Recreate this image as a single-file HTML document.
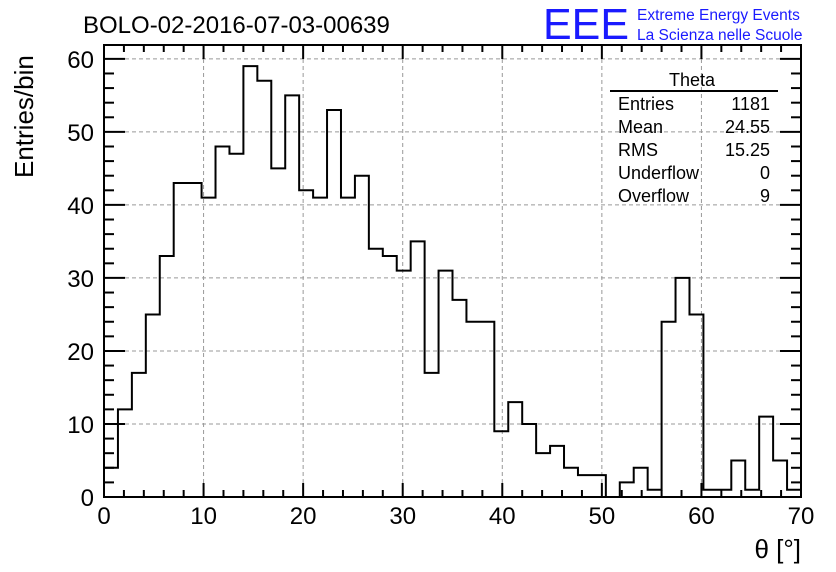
<!DOCTYPE html>
<html><head><meta charset="utf-8"><style>
body{margin:0;background:#fff;}
svg{display:block;font-family:"Liberation Sans",sans-serif;}
</style></head><body>
<svg id="c" width="836" height="572">
<rect x="0" y="0" width="836" height="572" fill="#fff"/>
<text x="83" y="33" font-size="24">BOLO-02-2016-07-03-00639</text>
<g>
<text x="543" y="39" font-size="44" fill="#1a1aff" textLength="86" lengthAdjust="spacingAndGlyphs">EEE</text>
<text x="637" y="20" font-size="15.5" fill="#1a1aff">Extreme Energy Events</text>
<text x="637" y="40" font-size="15.5" fill="#1a1aff">La Scienza nelle Scuole</text>
</g>
<g id="grid"></g>
<g id="ticks"></g>
<path id="hist" fill="none" stroke="#000" stroke-width="2"/>
<rect x="104" y="45" width="697" height="452" fill="none" stroke="#000" stroke-width="2"/>
<g id="labels" font-size="24"></g>
<text x="801" y="558" font-size="26" text-anchor="end">θ [°]</text>
<text transform="translate(33,178) rotate(-90)" font-size="26">Entries/bin</text>
<g font-size="18">
<text x="692" y="86" text-anchor="middle">Theta</text>
<line x1="610" y1="91" x2="778" y2="91" stroke="#000" stroke-width="2"/>
<text x="618" y="110">Entries</text><text x="770" y="110" text-anchor="end">1181</text>
<text x="618" y="133">Mean</text><text x="770" y="133" text-anchor="end">24.55</text>
<text x="618" y="156">RMS</text><text x="770" y="156" text-anchor="end">15.25</text>
<text x="618" y="179">Underflow</text><text x="770" y="179" text-anchor="end">0</text>
<text x="618" y="202">Overflow</text><text x="770" y="202" text-anchor="end">9</text>
</g>
</svg>
<script>
const counts=[4,12,17,25,33,43,43,41,48,47,59,57,45,55,42,41,53,41,44,34,33,31,35,17,31,27,24,24,9,13,10,6,7,4,3,3,0,2,4,1,24,30,25,1,1,5,1,11,5,1];
const xRange=[0,70];
const yRange=[0,61.9];
const xTicks=[0,10,20,30,40,50,60,70];
const yTicks=[0,10,20,30,40,50,60];
const NS="http://www.w3.org/2000/svg";
const L=104,R=801,T=45,B=497;
const X=v=>L+(v-xRange[0])/(xRange[1]-xRange[0])*(R-L);
const Y=v=>B-(v-yRange[0])/(yRange[1]-yRange[0])*(B-T);
function mk(tag,at,parent){const e=document.createElementNS(NS,tag);for(const k in at)e.setAttribute(k,at[k]);parent.appendChild(e);return e;}
const grid=document.getElementById('grid'),ticks=document.getElementById('ticks'),labels=document.getElementById('labels');
xTicks.forEach(v=>{
 if(v>xRange[0]&&v<xRange[1]){const g=mk('line',{x1:X(v),x2:X(v),y1:T,y2:B,stroke:'#999','stroke-dasharray':'4,3','stroke-width':1},grid);
 
 }
 const t=mk('text',{x:X(v),y:B+27,'text-anchor':'middle'},labels);t.textContent=v;
 
 
});
yTicks.forEach(v=>{
 if(v>yRange[0]){const g=mk('line',{x1:L,x2:R,y1:Y(v),y2:Y(v),stroke:'#999','stroke-dasharray':'4,3','stroke-width':1},grid);
 
 }
 const t=mk('text',{x:L-10,y:Y(v)+9,'text-anchor':'end'},labels);t.textContent=v;
 
 
});
for(let v=xRange[0];v<=xRange[1];v+=2){const maj=v%10===0,len=maj?14:7;
 mk('line',{x1:X(v),x2:X(v),y1:B,y2:B-len,stroke:'#000','stroke-width':2},ticks);
 mk('line',{x1:X(v),x2:X(v),y1:T,y2:T+len,stroke:'#000','stroke-width':2},ticks);}
for(let v=0;v<=60;v+=2){const maj=v%10===0,len=maj?21:10;
 mk('line',{x1:L,x2:L+len,y1:Y(v),y2:Y(v),stroke:'#000','stroke-width':2},ticks);
 mk('line',{x1:R,x2:R-len,y1:Y(v),y2:Y(v),stroke:'#000','stroke-width':2},ticks);}
const w=(xRange[1]-xRange[0])/counts.length;
let d='M'+X(0)+','+Y(0);
counts.forEach((c,i)=>{d+=' L'+X(i*w)+','+Y(c)+' L'+X((i+1)*w)+','+Y(c);});
d+=' L'+X(xRange[1])+','+Y(0);
document.getElementById('hist').setAttribute('d',d);
</script>
</body></html>
